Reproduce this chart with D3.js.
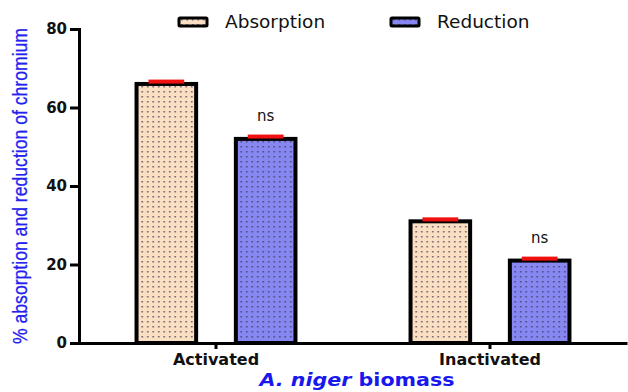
<!DOCTYPE html>
<html>
<head>
<meta charset="utf-8">
<script src="https://cdn.jsdelivr.net/npm/d3@7"></script>
<style>
  body { margin: 0; background: #fff; }
  svg { display: block; font-family: "DejaVu Sans", Arial, sans-serif; }
</style>
</head>
<body>
<svg id="chart" width="628" height="392"></svg>
<script>
const groups = ["Activated", "Inactivated"];
const series = ["Absorption", "Reduction"];
const absorption = [66, 31];
const reduction = [52, 21];
const errors = [0.6, 0.5];
const signif = ["ns", "ns"];
const yTicks = [0, 20, 40, 60, 80];

const fills = { Absorption: "#fbdfc2", Reduction: "#8787f2" };

const svg = d3.select("#chart");

const margin = { top: 29, right: 1, bottom: 49, left: 79 },
  width = 628,
  height = 392,
  innerWidth = width - margin.left - margin.right,
  innerHeight = height - margin.top - margin.bottom;

// dotted fills
const defs = svg.append("defs");
series.forEach((s) => {
  const p = defs
    .append("pattern")
    .attr("id", `dots_${s}`)
    .attr("patternUnits", "userSpaceOnUse")
    .attr("width", 5.5)
    .attr("height", 5)
  p.append("rect").attr("width", 5.5).attr("height", 5).attr("fill", fills[s]);
  p.append("rect")
    .attr("x", 2)
    .attr("y", 2)
    .attr("width", 1.5)
    .attr("height", 1.5)
    .attr("fill", "#3a3550")
    .attr("opacity", 0.8);
});

const data = groups.map((g, i) => ({
  group: g,
  values: [
    { key: "Absorption", value: absorption[i], err: errors[i] },
    { key: "Reduction", value: reduction[i], err: errors[i], sig: signif[i] },
  ],
}));

const x0 = d3
  .scaleBand()
  .domain(groups)
  .range([0, innerWidth])
  .paddingInner(0)
  .paddingOuter(0);

const x1 = d3
  .scaleBand()
  .domain(series)
  .range([x0.bandwidth() * 0.21, x0.bandwidth() * 0.79])
  .paddingInner(0.4)
  .paddingOuter(0);

const y = d3.scaleLinear().domain([0, 80]).range([innerHeight, 0]);

const g = svg
  .append("g")
  .attr("transform", `translate(${margin.left},${margin.top})`);

// bars
const grp = g
  .selectAll(".grp")
  .data(data)
  .join("g")
  .attr("class", "grp")
  .attr("transform", (d) => `translate(${x0(d.group)},0)`);

grp
  .selectAll("rect.bar")
  .data((d) => d.values)
  .join("rect")
  .attr("class", "bar")
  .attr("x", (d) => x1(d.key))
  .attr("y", (d) => y(d.value))
  .attr("width", x1.bandwidth())
  .attr("height", (d) => innerHeight - y(d.value))
  .attr("fill", (d) => `url(#dots_${d.key})`)
  .attr("stroke", "#000")
  .attr("stroke-width", 4);

// error caps (red)
grp
  .selectAll("rect.err")
  .data((d) => d.values)
  .join("rect")
  .attr("class", "err")
  .attr("x", (d) => x1(d.key) + x1.bandwidth() * 0.2)
  .attr("y", (d) => y(d.value + d.err) - 2)
  .attr("width", x1.bandwidth() * 0.6)
  .attr("height", 4)
  .attr("fill", "#f01010");

// ns labels
grp
  .selectAll("text.sig")
  .data((d) => d.values.filter((v) => v.sig))
  .join("text")
  .attr("class", "sig")
  .attr("x", (d) => x1(d.key) + x1.bandwidth() / 2)
  .attr("y", (d) => y(d.value) - 18)
  .attr("text-anchor", "middle")
  .attr("font-size", 15)
  .attr("fill", "#111")
  .text((d) => d.sig);

const styleTicks = (size) => (a) =>
  a
    .selectAll(".tick text")
    .attr("font-size", size)
    .attr("font-weight", "bold")
    .attr("fill", "#111")
    .attr("font-family", "DejaVu Sans, Arial, sans-serif");

// axes
g.append("g")
  .call(d3.axisLeft(y).tickValues(yTicks).tickSize(9).tickPadding(3))
  .call((a) => a.select(".domain").attr("stroke-width", 3))
  .call((a) => a.selectAll(".tick line").attr("stroke-width", 3))
  .call(styleTicks(15));

g.append("g")
  .attr("transform", `translate(0,${innerHeight})`)
  .call(d3.axisBottom(x0).tickSize(6).tickPadding(5).tickSizeOuter(0))
  .call((a) => a.select(".domain").attr("stroke-width", 3))
  .call((a) => a.selectAll(".tick line").attr("stroke-width", 3))
  .call(styleTicks(16));

// axis titles
svg
  .append("text")
  .attr("transform", `translate(27,186) rotate(-90)`)
  .attr("text-anchor", "middle")
  .attr("font-family", "Liberation Sans, Arial, sans-serif")
  .attr("font-size", 21)
  .attr("fill", "#2222ee")
  .attr("stroke", "#2222ee")
  .attr("stroke-width", 0.3)
  .attr("textLength", 316)
  .attr("lengthAdjust", "spacingAndGlyphs")
  .text("% absorption and reduction of chromium");

const xt = svg
  .append("text")
  .attr("x", 357)
  .attr("y", 386)
  .attr("text-anchor", "middle")
  .attr("font-size", 17)
  .attr("font-weight", "bold")
  .attr("fill", "#1818ee")
  .attr("textLength", 195)
  .attr("lengthAdjust", "spacingAndGlyphs");
xt.append("tspan").attr("font-style", "italic").text("A. niger");
xt.append("tspan").text(" biomass");

// legend
const legend = svg
  .selectAll(".leg")
  .data(series)
  .join("g")
  .attr("class", "leg")
  .attr("transform", (d, i) => `translate(${[179, 391][i]},17)`);

legend
  .append("rect")
  .attr("width", 28)
  .attr("height", 8)
  .attr("y", 1)
  .attr("rx", 1)
  .attr("fill", (d) => `url(#dots_${d})`)
  .attr("stroke", "#000")
  .attr("stroke-width", 3);

legend
  .append("text")
  .attr("x", 46)
  .attr("y", 11)
  .attr("font-size", 18.5)
  .attr("fill", "#111")
  .text((d) => d);
</script>
</body>
</html>
